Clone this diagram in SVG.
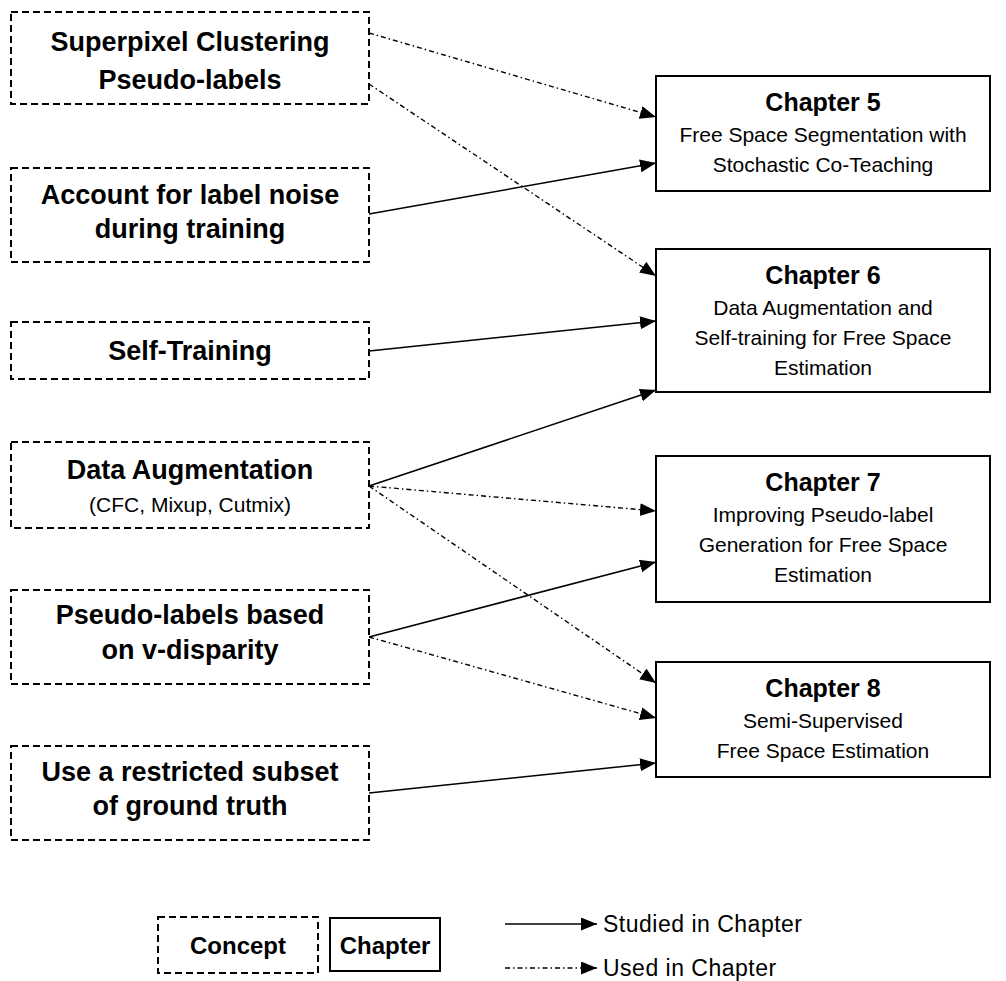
<svg xmlns="http://www.w3.org/2000/svg" width="1006" height="981" viewBox="0 0 1006 981">
<style>
.concept{fill:#fff;stroke:#000;stroke-width:2;stroke-dasharray:7 4}
.chapter{fill:#fff;stroke:#000;stroke-width:2}
.ct{font-family:"Liberation Sans",Arial,sans-serif;font-weight:bold;font-size:27px;text-anchor:middle;fill:#000}
.cs{font-family:"Liberation Sans",Arial,sans-serif;font-size:21px;text-anchor:middle;fill:#000}
.ht{font-family:"Liberation Sans",Arial,sans-serif;font-weight:bold;font-size:25px;text-anchor:middle;fill:#000}
.lh{font-family:"Liberation Sans",Arial,sans-serif;font-weight:bold;font-size:24px;text-anchor:middle;fill:#000}
.bt{font-family:"Liberation Sans",Arial,sans-serif;font-size:21px;text-anchor:middle;fill:#000}
.lt{font-family:"Liberation Sans",Arial,sans-serif;font-size:23px;letter-spacing:0.5px;fill:#000}
.solid{fill:none;stroke:#000;stroke-width:1.6;marker-end:url(#ah)}
.used{fill:none;stroke:#000;stroke-width:1.4;stroke-dasharray:5 3 1.5 3;marker-end:url(#ah)}
</style>
<defs>
<marker id="ah" markerUnits="userSpaceOnUse" markerWidth="17" markerHeight="14" refX="16" refY="6.5" orient="auto">
<path d="M0,0 L16,6.5 L0,13 z" fill="#000"/>
</marker>
</defs>
<rect width="1006" height="981" fill="#fff"/>

<g id="connectors">
<line class="used" x1="369" y1="33" x2="656" y2="117"/>
<line class="used" x1="369" y1="84" x2="656" y2="276"/>
<line class="solid" x1="369" y1="214" x2="656" y2="163"/>
<line class="solid" x1="369" y1="351" x2="656" y2="321"/>
<line class="solid" x1="369" y1="486" x2="656" y2="390"/>
<line class="used" x1="369" y1="486" x2="656" y2="511"/>
<line class="used" x1="369" y1="486" x2="656" y2="683"/>
<line class="solid" x1="369" y1="637" x2="656" y2="562"/>
<line class="used" x1="369" y1="637" x2="656" y2="718"/>
<line class="solid" x1="369" y1="793" x2="656" y2="763"/>
</g>

<g id="concept-superpixel">
<rect class="concept" x="11" y="12" width="358" height="92"/>
<text class="ct" x="190" y="51">Superpixel Clustering</text>
<text class="ct" x="190" y="89">Pseudo-labels</text>
</g>
<g id="concept-noise">
<rect class="concept" x="11" y="168" width="358" height="94"/>
<text class="ct" x="190" y="204">Account for label noise</text>
<text class="ct" x="190" y="238">during training</text>
</g>
<g id="concept-selftraining">
<rect class="concept" x="11" y="322" width="358" height="57"/>
<text class="ct" x="190" y="360">Self-Training</text>
</g>
<g id="concept-augmentation">
<rect class="concept" x="11" y="442" width="358" height="86"/>
<text class="ct" x="190" y="479">Data Augmentation</text>
<text class="cs" x="190" y="512">(CFC, Mixup, Cutmix)</text>
</g>
<g id="concept-vdisparity">
<rect class="concept" x="11" y="590" width="358" height="94"/>
<text class="ct" x="190" y="624">Pseudo-labels based</text>
<text class="ct" x="190" y="659">on v-disparity</text>
</g>
<g id="concept-subset">
<rect class="concept" x="11" y="746" width="358" height="94"/>
<text class="ct" x="190" y="781">Use a restricted subset</text>
<text class="ct" x="190" y="815">of ground truth</text>
</g>

<g id="chapter-5">
<rect class="chapter" x="656" y="76" width="334" height="115"/>
<text class="ht" x="823" y="111">Chapter 5</text>
<text class="bt" x="823" y="142">Free Space Segmentation with</text>
<text class="bt" x="823" y="172">Stochastic Co-Teaching</text>
</g>
<g id="chapter-6">
<rect class="chapter" x="656" y="249" width="334" height="143"/>
<text class="ht" x="823" y="284">Chapter 6</text>
<text class="bt" x="823" y="315">Data Augmentation and</text>
<text class="bt" x="823" y="345">Self-training for Free Space</text>
<text class="bt" x="823" y="375">Estimation</text>
</g>
<g id="chapter-7">
<rect class="chapter" x="656" y="456" width="334" height="146"/>
<text class="ht" x="823" y="491">Chapter 7</text>
<text class="bt" x="823" y="522">Improving Pseudo-label</text>
<text class="bt" x="823" y="552">Generation for Free Space</text>
<text class="bt" x="823" y="582">Estimation</text>
</g>
<g id="chapter-8">
<rect class="chapter" x="656" y="662" width="334" height="115"/>
<text class="ht" x="823" y="697">Chapter 8</text>
<text class="bt" x="823" y="728">Semi-Supervised</text>
<text class="bt" x="823" y="758">Free Space Estimation</text>
</g>

<g id="legend">
<g id="legend-concept">
<rect class="concept" x="158" y="917" width="160" height="56"/>
<text class="lh" x="238" y="954">Concept</text>
</g>
<g id="legend-chapter">
<rect class="chapter" x="330" y="918" width="110" height="53"/>
<text class="lh" x="385" y="954">Chapter</text>
</g>
<g id="legend-arrows">
<line class="solid" x1="505" y1="924" x2="597" y2="924"/>
<text class="lt" x="603" y="932">Studied in Chapter</text>
<line class="used" x1="505" y1="968" x2="597" y2="968"/>
<text class="lt" x="603" y="976">Used in Chapter</text>
</g>
</g>
</svg>
